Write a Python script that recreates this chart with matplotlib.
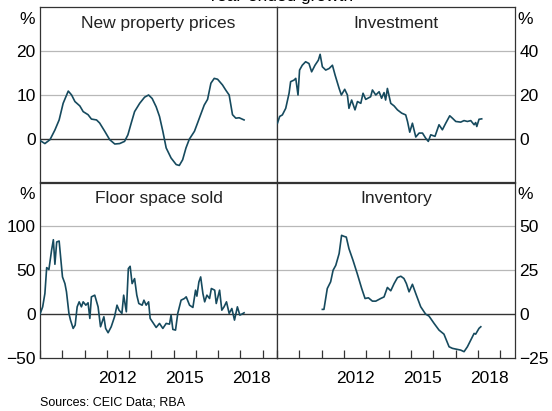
import matplotlib
matplotlib.use("Agg")
import matplotlib.pyplot as plt
from matplotlib.ticker import FixedLocator, NullFormatter

plt.rcParams["font.family"] = ["Liberation Sans", "DejaVu Sans"]

LINE = "#164a5e"

# New property prices (year-ended growth, %)
prices_x = [2009.0, 2009.22, 2009.45, 2009.67, 2009.86, 2010.04, 2010.27, 2010.42, 2010.57,
            2010.79, 2010.94, 2011.16, 2011.31, 2011.54, 2011.68, 2011.91, 2012.13, 2012.36,
            2012.58, 2012.8, 2012.95, 2013.1, 2013.25, 2013.48, 2013.7, 2013.88, 2014.04,
            2014.22, 2014.37, 2014.52, 2014.67, 2014.89, 2015.12, 2015.26, 2015.41, 2015.56,
            2015.71, 2015.94, 2016.08, 2016.24, 2016.38, 2016.53, 2016.68, 2016.83, 2016.98,
            2017.2, 2017.35, 2017.5, 2017.65, 2017.8, 2017.95, 2018.17]
prices_y = [-0.4, -1.1, -0.2, 2.0, 4.3, 8.1, 10.9, 10.0, 8.5, 7.5, 6.2, 5.5, 4.5, 4.3, 3.6,
            1.7, -0.2, -1.2, -1.1, -0.6, 0.9, 3.6, 6.2, 8.1, 9.5, 10.0, 9.2, 7.3, 5.1, 1.7,
            -2.1, -4.4, -5.9, -6.1, -4.8, -2.1, -0.1, 1.7, 3.6, 5.8, 7.7, 9.0, 12.7, 13.8,
            13.6, 12.3, 11.1, 10.0, 5.5, 4.7, 4.8, 4.3]

# Investment
invest_x = [2009.02, 2009.12, 2009.24, 2009.39, 2009.54, 2009.61, 2009.76, 2009.84, 2009.94,
            2010.01, 2010.13, 2010.28, 2010.43, 2010.55, 2010.7, 2010.85, 2010.93, 2011.03,
            2011.18, 2011.33, 2011.48, 2011.6, 2011.78, 2011.88, 2012.03, 2012.15, 2012.22,
            2012.34, 2012.49, 2012.6, 2012.75, 2012.85, 2012.97, 2013.19, 2013.27, 2013.42,
            2013.57, 2013.68, 2013.79, 2013.86, 2013.94, 2014.09, 2014.24, 2014.39, 2014.58,
            2014.76, 2014.84, 2014.94, 2015.06, 2015.21, 2015.36, 2015.51, 2015.65, 2015.77,
            2015.88, 2016.07, 2016.25, 2016.4, 2016.55, 2016.73, 2016.85, 2017.0, 2017.22,
            2017.37, 2017.52, 2017.67, 2017.82, 2017.89, 2017.94, 2018.04, 2018.16]
invest_y = [7.1, 10.2, 10.9, 13.9, 20.8, 26.1, 26.8, 27.6, 20.0, 31.4, 33.6, 35.2, 34.4, 30.6,
            33.6, 35.9, 38.6, 32.9, 31.4, 32.1, 33.6, 29.1, 23.0, 20.0, 22.6, 20.0, 13.9, 17.7,
            13.2, 17.0, 16.2, 20.8, 18.0, 19.2, 22.3, 20.0, 21.5, 18.5, 21.1, 17.7, 23.0, 16.2,
            15.0, 13.2, 11.7, 10.9, 7.9, 3.0, 7.1, 0.8, 2.6, 2.6, 0.3, -1.2, 1.8, 1.1, 6.4, 4.1,
            7.1, 10.5, 9.4, 7.9, 7.6, 8.3, 7.9, 8.3, 6.4, 7.4, 5.6, 8.9, 9.1]

# Floor space sold
floor_x = [2009.0, 2009.12, 2009.22, 2009.3, 2009.4, 2009.52, 2009.6, 2009.67, 2009.75, 2009.86,
           2009.94, 2010.01, 2010.12, 2010.19, 2010.3, 2010.37, 2010.49, 2010.58, 2010.67,
           2010.76, 2010.86, 2010.94, 2011.06, 2011.16, 2011.24, 2011.31, 2011.46, 2011.61,
           2011.72, 2011.87, 2011.95, 2012.06, 2012.2, 2012.35, 2012.46, 2012.55, 2012.68,
           2012.76, 2012.88, 2012.97, 2013.05, 2013.14, 2013.25, 2013.35, 2013.44, 2013.59,
           2013.67, 2013.77, 2013.88, 2013.95, 2014.1, 2014.22, 2014.37, 2014.52, 2014.67,
           2014.82, 2014.89, 2014.97, 2015.09, 2015.19, 2015.34, 2015.49, 2015.57, 2015.72,
           2015.87, 2015.99, 2016.05, 2016.14, 2016.22, 2016.32, 2016.4, 2016.5, 2016.62,
           2016.7, 2016.85, 2016.92, 2017.07, 2017.17, 2017.27, 2017.38, 2017.5, 2017.62,
           2017.74, 2017.87, 2017.98, 2018.07, 2018.17]
floor_y = [0.0, 8.3, 23.5, 53.0, 50.8, 72.7, 84.8, 56.8, 82.2, 83.3, 61.4, 42.4, 34.8, 25.4,
           0.8, -6.8, -16.3, -12.5, 8.3, 14.0, 8.3, 14.0, 10.2, 12.9, -4.9, 19.7, 21.6, 8.3,
           -14.4, -3.0, -16.3, -21.2, -14.4, -3.0, 10.2, 4.5, 0.8, 21.6, 2.7, 51.9, 54.5, 34.8,
           40.5, 21.6, 12.1, 10.2, 15.9, 10.2, 14.0, -4.9, -10.6, -15.2, -10.6, -16.3, -10.6,
           -11.4, -1.1, -17.4, -18.2, 0.8, 15.9, 17.8, 19.7, 10.2, 7.6, 27.3, 20.5, 36.7, 42.4,
           23.5, 14.0, 21.6, 17.8, 29.2, 27.3, 12.1, 27.3, 4.5, 8.3, 14.0, 0.8, 6.4, -6.8, 8.3,
           -1.1, 0.0, 1.5]

# Inventory
inv_x = [2011.03, 2011.1, 2011.25, 2011.4, 2011.51, 2011.63, 2011.78, 2011.89, 2012.0, 2012.1,
         2012.22, 2012.4, 2012.59, 2012.79, 2012.94, 2013.09, 2013.27, 2013.42, 2013.64,
         2013.79, 2013.94, 2014.09, 2014.24, 2014.39, 2014.54, 2014.68, 2014.79, 2014.91,
         2015.06, 2015.21, 2015.43, 2015.65, 2015.8, 2016.03, 2016.25, 2016.47, 2016.7,
         2016.85, 2017.07, 2017.22, 2017.37, 2017.52, 2017.67, 2017.82, 2017.89, 2018.04,
         2018.12]
inv_y = [2.7, 2.7, 14.6, 18.4, 25.0, 27.8, 34.5, 44.9, 44.3, 43.9, 37.3, 30.7, 23.1, 14.6, 8.9,
         9.3, 7.4, 7.4, 8.9, 9.8, 15.2, 13.3, 17.4, 20.8, 21.6, 20.3, 17.4, 12.7, 17.0, 11.7,
         4.2, 0.0, -1.1, -5.3, -9.1, -11.4, -18.6, -19.5, -20.1, -20.5, -21.4, -18.6, -14.8,
         -11.0, -11.4, -8.1, -7.2]

year_labels = ["2012", "2015", "2018"]
panels = [
    ("New property prices", prices_x, prices_y, (-10, 30), [0, 10, 20], "left", False),
    ("Investment", invest_x, invest_y, (-20, 60), [0, 20, 40], "right", False),
    ("Floor space sold", floor_x, floor_y, (-50, 150), [-50, 0, 50, 100], "left", True),
    ("Inventory", inv_x, inv_y, (-25, 75), [-25, 0, 25, 50], "right", True),
]

FS = 12.5
fig = plt.figure(figsize=(5.52, 4.11), dpi=100)
W, H = 552, 411
boxes = [(40, 7.5, 277, 182.5), (277, 7.5, 515, 182.5),
         (40, 182.5, 277, 358), (277, 182.5, 515, 358)]

for (title, xs, ys, ylim, yt, side, bottom), (x0, y0, x1, y1) in zip(panels, boxes):
    ax = fig.add_axes([x0 / W, 1 - y1 / H, (x1 - x0) / W, (y1 - y0) / H])
    ax.set_xlim(2009, 2019.65)
    ax.set_ylim(*ylim)
    for v in yt:
        if v == 0:
            ax.axhline(0, color="#333333", lw=1.0, zorder=2)
        elif v != ylim[0]:
            ax.axhline(v, color="#b8b8b8", lw=0.9, zorder=1)
    ax.plot(xs, ys, color=LINE, lw=1.2, zorder=3)
    ax.set_yticks(yt)
    ax.tick_params(axis="y", length=0, labelsize=FS, pad=3,
                   left=False, right=False,
                   labelleft=(side == "left"), labelright=(side == "right"))
    if side == "left":
        ax.text(-0.022, 0.975, "%", transform=ax.transAxes, ha="right", va="top", fontsize=FS)
    else:
        ax.text(1.012, 0.975, "%", transform=ax.transAxes, ha="left", va="top", fontsize=FS)
    if bottom:
        ax.xaxis.set_major_locator(FixedLocator(range(2009, 2020)))
        ax.xaxis.set_major_formatter(NullFormatter())
        ax.set_xticks([2012.5, 2015.5, 2018.5], minor=True)
        ax.set_xticklabels(year_labels, minor=True)
        ax.tick_params(axis="x", which="major", direction="in", length=6, width=0.9, color="#333333")
        ax.tick_params(axis="x", which="minor", length=0, labelsize=FS, pad=9)
    else:
        ax.set_xticks([])
    for s in ax.spines.values():
        s.set_color("#333333")
        s.set_linewidth(0.9)
    ax.text(0.5, 0.95, title, transform=ax.transAxes, ha="center", va="top", fontsize=FS,
            color="#222222")

fig.text(0.507, 1 - 1.5 / H, "Year-ended growth", ha="center", va="baseline", fontsize=FS)
fig.text(40 / W, 1 - 402 / H, "Sources: CEIC Data; RBA", ha="left", va="center", fontsize=9)

fig.savefig("out.png", dpi=100)
